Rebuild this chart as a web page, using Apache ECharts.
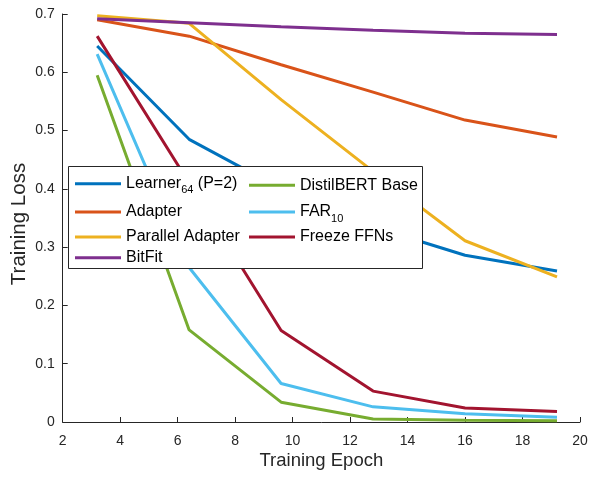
<!DOCTYPE html>
<html>
<head>
<meta charset="utf-8">
<script src="https://cdn.jsdelivr.net/npm/echarts@6/dist/echarts.min.js"></script>
<style>html,body{margin:0;padding:0;background:#fff;}#c{width:589px;height:482px;}</style>
</head>
<body>
<div id="c"></div>
<script>
const epochs = [3.2, 6.4, 9.6, 12.8, 16, 19.2];
const learner = [0.645, 0.485, 0.40, 0.335, 0.286, 0.259];
const adapter = [0.690, 0.662, 0.613, 0.566, 0.518, 0.489];
const parallel = [0.697, 0.684, 0.553, 0.430, 0.311, 0.249];
const bitfit = [0.692, 0.685, 0.678, 0.672, 0.667, 0.665];
const distil = [0.595, 0.158, 0.034, 0.005, 0.003, 0.002];
const far = [0.631, 0.265, 0.066, 0.026, 0.014, 0.008];
const freeze = [0.662, 0.410, 0.157, 0.053, 0.024, 0.018];

const names = ['Learner64 (P=2)', 'Adapter', 'Parallel Adapter', 'BitFit', 'DistilBERT Base', 'FAR10', 'Freeze FFNs'];
const labels = {
  'Learner64 (P=2)': '{a|Learner}{s|64}{a| (P=2)}',
  'FAR10': '{a|FAR}{s|10}'
};
const values = [learner, adapter, parallel, bitfit, distil, far, freeze];
const colors = ['#0072BD', '#D95319', '#EDB120', '#7E2F8E', '#77AC30', '#4DBEEE', '#A2142F'];

const FONT = 'Liberation Sans';
const axisColor = '#262626';

const series = names.map((n, i) => ({
  name: n,
  type: 'line',
  data: epochs.map((e, j) => [e, values[i][j]]),
  symbol: 'none',
  lineStyle: { width: 3, color: colors[i] },
  itemStyle: { color: colors[i] },
  z: 2 + i * 0.01
}));

// legend positions: [left, rowCenter]
const legendPos = [
  [75, 182.7], [75, 211], [75, 236], [75, 256.7],
  [249, 184.3], [249, 211], [249, 236]
];
const legends = names.map((n, i) => ({
  data: [{ name: n, icon: 'rect' }],
  left: legendPos[i][0],
  top: legendPos[i][1] - 7,
  padding: 0,
  itemWidth: 46,
  itemHeight: 3,
  z: 20,
  selectedMode: false,
  formatter: nm => labels[nm] || ('{a|' + nm + '}'),
  textStyle: {
    rich: {
      a: { fontFamily: FONT, fontSize: 16, color: '#000', lineHeight: 24, verticalAlign: 'middle' },
      s: { fontFamily: FONT, fontSize: 11, color: '#000', lineHeight: 11, verticalAlign: 'bottom' }
    }
  }
}));

const chart = echarts.init(document.getElementById('c'), null, { renderer: 'canvas' });
chart.setOption({
  animation: false,
  backgroundColor: '#fff',
  grid: { left: 62.7, right: 9, top: 14, bottom: 60, containLabel: false, outerBoundsMode: 'none' },
  xAxis: {
    type: 'value', min: 2, max: 20, interval: 2,
    name: 'Training Epoch', nameLocation: 'middle', nameGap: 29, nameMoveOverlap: false,
    nameTextStyle: { fontFamily: FONT, fontSize: 18.5, color: axisColor },
    axisLine: { show: true, onZero: false, lineStyle: { color: axisColor, width: 1 } },
    axisTick: { show: true, inside: true, length: 5, lineStyle: { color: axisColor } },
    axisLabel: { fontFamily: FONT, fontSize: 14, color: axisColor, margin: 12 },
    splitLine: { show: false }
  },
  yAxis: {
    type: 'value', min: 0, max: 0.7, interval: 0.1,
    name: 'Training Loss', nameLocation: 'middle', nameGap: 33, nameMoveOverlap: false,
    nameTextStyle: { fontFamily: FONT, fontSize: 20.5, color: axisColor, padding: [0, 12, 0, 0] },
    axisLine: { show: true, lineStyle: { color: axisColor, width: 1 } },
    axisTick: { show: true, inside: true, length: 5, lineStyle: { color: axisColor } },
    axisLabel: { fontFamily: FONT, fontSize: 14, color: axisColor, margin: 8,
      formatter: v => v === 0 ? '0' : v.toFixed(1) },
    splitLine: { show: false }
  },
  legend: legends,
  graphic: [{
    type: 'rect', z: 10,
    shape: { x: 68.5, y: 166.5, width: 354, height: 102 },
    style: { fill: '#fff', stroke: axisColor, lineWidth: 1 }
  }],
  series: series
});
</script>
</body>
</html>
